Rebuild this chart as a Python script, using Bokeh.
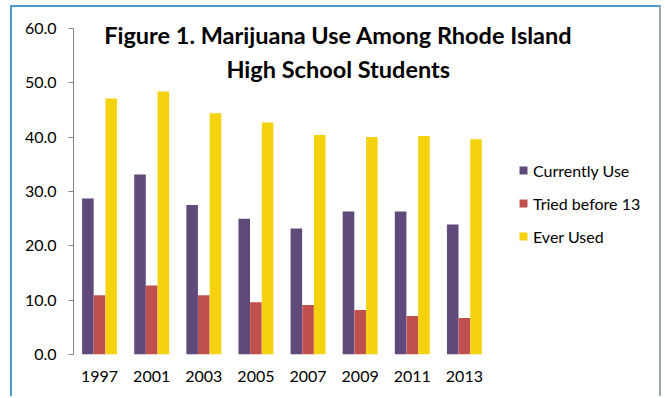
from bokeh.plotting import figure
from bokeh.models import (Range1d, Legend, LegendItem, Label, FixedTicker,
                          SingleIntervalTicker, PrintfTickFormatter)
from bokeh.embed import file_html
from bokeh.resources import INLINE

years = ["1997", "2001", "2003", "2005", "2007", "2009", "2011", "2013"]
currently_use = [28.7, 33.1, 27.5, 25.0, 23.2, 26.3, 26.3, 23.9]
tried_before_13 = [10.9, 12.7, 10.9, 9.6, 9.1, 8.2, 7.1, 6.7]
ever_used = [47.1, 48.4, 44.4, 42.7, 40.4, 40.0, 40.2, 39.6]
series_names = ["Currently Use", "Tried before 13", "Ever Used"]
title_lines = ["Figure 1. Marijuana Use Among Rhode Island", "High School Students"]

colors = ["#604A7B", "#C0504D", "#F4D20E"]
FONT = "Lato"

# category slots along a numeric axis (slot i centred at i + 0.5)
pos = [i + 0.5 for i in range(len(years))]

p = figure(width=651, height=391, x_range=Range1d(0, 11.32), y_range=Range1d(0, 63.85),
           output_backend="svg", toolbar_location=None,
           min_border_left=61, min_border_right=0, min_border_top=0, min_border_bottom=44,
           styles={"margin-left": "10px", "margin-top": "5px",
                   "border-left": "2px solid #4A9BCF", "border-top": "2px solid #4A9BCF",
                   "border-right": "2px solid #9EA7AD"})
p.background_fill_color = "white"
p.border_fill_color = "white"
p.outline_line_color = None
p.xgrid.grid_line_color = None
p.ygrid.grid_line_color = None

w = 0.222
off = 0.224
r1 = p.vbar(x=[v - off for v in pos], top=currently_use, width=w,
            fill_color=colors[0], line_color=None)
r2 = p.vbar(x=pos, top=tried_before_13, width=w,
            fill_color=colors[1], line_color=None)
r3 = p.vbar(x=[v + off for v in pos], top=ever_used, width=w,
            fill_color=colors[2], line_color=None)

# axes
ya = p.yaxis[0]
ya.bounds = (0, 60)
ya.ticker = SingleIntervalTicker(interval=10, num_minor_ticks=0)
ya.formatter = PrintfTickFormatter(format="%.1f")
ya.axis_line_color = "#868686"
ya.major_tick_line_color = "#868686"
ya.major_tick_out = 5
ya.major_tick_in = 0
ya.minor_tick_line_color = None
ya.major_label_standoff = 12
ya.major_label_text_font = FONT
ya.major_label_text_font_size = "16px"
ya.major_label_text_color = "#000000"

xa = p.xaxis[0]
xa.ticker = FixedTicker(ticks=pos)
xa.major_label_overrides = {v: y for v, y in zip(pos, years)}
xa.axis_line_color = None
xa.major_tick_line_color = None
xa.minor_tick_line_color = None
xa.major_tick_out = 0
xa.major_label_standoff = 16
xa.major_label_text_font = FONT
xa.major_label_text_font_size = "16px"
xa.major_label_text_color = "#000000"

# legend
legend = Legend(items=[LegendItem(label=series_names[0], renderers=[r1]),
                       LegendItem(label=series_names[1], renderers=[r2]),
                       LegendItem(label=series_names[2], renderers=[r3])],
                location=(445, 108), orientation="vertical")
legend.border_line_color = None
legend.background_fill_alpha = 0
legend.padding = 0
legend.margin = 0
legend.spacing = 13
legend.glyph_width = 10
legend.glyph_height = 10
legend.label_height = 20
legend.label_standoff = 5
legend.label_text_font = FONT
legend.label_text_font_size = "16px"
legend.label_text_color = "#000000"
p.add_layout(legend, "center")

# title
for txt, yv in zip(title_lines, [58.75, 52.5]):
    p.add_layout(Label(x=5.08, y=yv, text=txt, text_align="center", text_baseline="middle",
                       text_font=FONT, text_font_style="bold", text_font_size="23.5px",
                       text_color="#000000"))

open("out.html", "w").write(file_html(p, INLINE))
